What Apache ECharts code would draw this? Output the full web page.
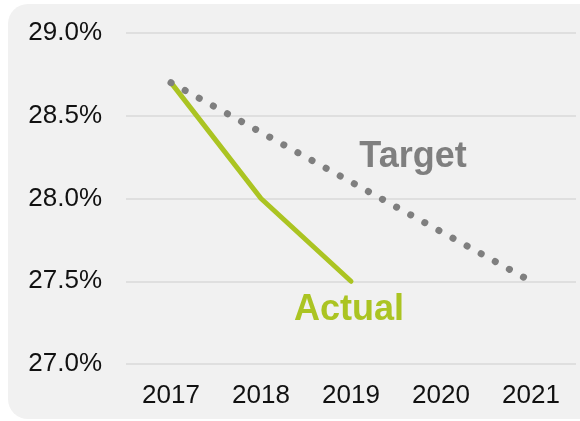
<!DOCTYPE html>
<html>
<head>
<meta charset="utf-8">
<script src="https://cdn.jsdelivr.net/npm/echarts@6/dist/echarts.min.js"></script>
<style>
  html, body { margin: 0; padding: 0; background: #fff; }
  #panel {
    position: absolute; left: 8px; top: 4px; width: 600px; height: 415px;
    background: #f1f1f1; border-radius: 20px;
  }
  #main { position: absolute; left: 0; top: 0; width: 580px; height: 421px; }
</style>
</head>
<body>
<div id="panel"></div>
<div id="main"></div>
<script>
const years = ['2017', '2018', '2019', '2020', '2021']
const actual = [28.7, 28.0, 27.5, null, null]
const target = [28.7, 28.4, 28.1, 27.8, 27.5]
const yTicks = { min: 27, max: 29, step: 0.5 }

const chart = echarts.init(document.getElementById('main'))

const font = '"Liberation Sans", Arial, sans-serif'

chart.setOption({
  backgroundColor: 'transparent',
  animation: false,
  grid: { left: 126, right: 4, top: 33, bottom: 57 },
  xAxis: {
    type: 'category',
    data: years,
    axisLine: { show: false },
    axisTick: { show: false },
    axisLabel: { color: '#111', fontSize: 26, fontFamily: font, margin: 19 }
  },
  yAxis: {
    type: 'value',
    min: yTicks.min,
    max: yTicks.max,
    interval: yTicks.step,
    axisLine: { show: false },
    axisTick: { show: false },
    splitLine: { lineStyle: { color: '#d9d9d9', width: 1.5 } },
    axisLabel: {
      color: '#111', fontSize: 26, fontFamily: font, margin: 24,
      formatter: v => v.toFixed(1) + '%'
    }
  },
  series: [
    {
      name: 'Actual',
      type: 'line',
      data: actual,
      symbol: 'none',
      lineStyle: { color: '#abc422', width: 5, cap: 'round', join: 'round' }
    },
    {
      name: 'Target',
      type: 'line',
      data: target,
      symbol: 'none',
      lineStyle: { color: '#7f7f7f', width: 7, type: [0.1, 16], cap: 'round' }
    }
  ],
  graphic: [
    {
      type: 'text', x: 413, y: 157,
      style: { text: 'Target', fill: '#7f7f7f', font: 'bold 36px ' + font, align: 'center', verticalAlign: 'middle' }
    },
    {
      type: 'text', x: 349, y: 310,
      style: { text: 'Actual', fill: '#abc422', font: 'bold 36px ' + font, align: 'center', verticalAlign: 'middle' }
    }
  ]
})
</script>
</body>
</html>
